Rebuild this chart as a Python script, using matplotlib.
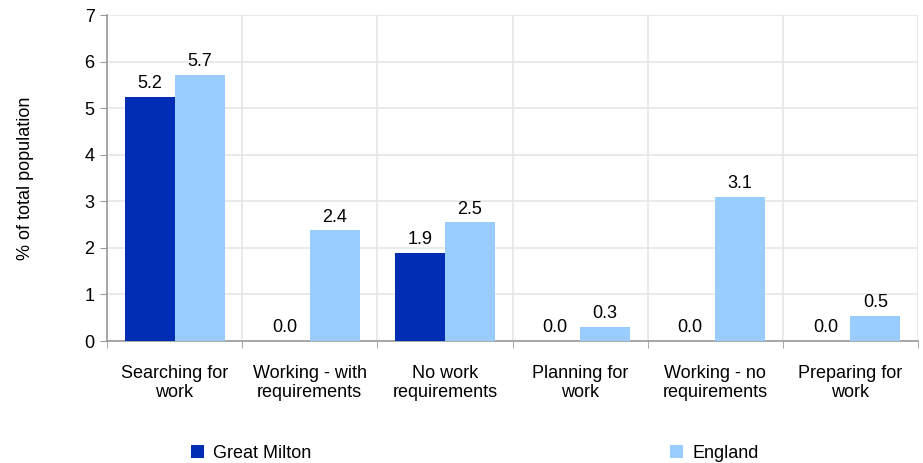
import numpy as np
import matplotlib.pyplot as plt

plt.rcParams['font.family'] = ['Liberation Sans', 'DejaVu Sans']

categories = ["Searching for\nwork", "Working - with\nrequirements", "No work\nrequirements",
              "Planning for\nwork", "Working - no\nrequirements", "Preparing for\nwork"]
great_milton = [5.24, 0.0, 1.89, 0.0, 0.0, 0.0]
england = [5.71, 2.38, 2.55, 0.30, 3.09, 0.54]

x = np.arange(len(categories))
w = 0.37
fs = 13

fig = plt.figure(figsize=(9.23, 4.63), dpi=100)
ax = fig.add_axes([107 / 923, 1 - 341 / 463, 811 / 923, 326 / 463])

b1 = ax.bar(x - w / 2, great_milton, w, color='#002db3', label='Great Milton', zorder=3)
b2 = ax.bar(x + w / 2, england, w, color='#99ccff', label='England', zorder=3)

for bars, vals in ((b1, great_milton), (b2, england)):
    for b, v in zip(bars, vals):
        ax.text(b.get_x() + b.get_width() / 2, v + 0.1, f"{v:.1f}",
                ha='center', va='bottom', fontsize=fs)

ax.set_xlim(-0.5, len(categories) - 0.5)
ax.set_ylim(0, 7)
ax.set_yticks(range(0, 8))
ax.set_xticks(x)
ax.set_xticklabels(categories, fontsize=fs, linespacing=1.15)
ax.set_xticks(np.arange(-0.5, len(categories)), minor=True)
ax.tick_params(axis='x', which='major', length=0, pad=17)
ax.tick_params(axis='x', which='minor', length=5, color='#999999', direction='out')
ax.tick_params(axis='y', length=5, color='#999999', labelsize=fs, pad=4)

ax.grid(True, axis='y', color='#e6e6e6', lw=1.2, zorder=0)
ax.grid(True, axis='x', which='minor', color='#e6e6e6', lw=1.2, zorder=0)
for s in ('top', 'right'):
    ax.spines[s].set_visible(False)
for s in ('left', 'bottom'):
    ax.spines[s].set_color('#999999')
    ax.spines[s].set_linewidth(1.2)

ax.set_ylabel("% of total population", fontsize=fs, labelpad=36)

fig.legend(handles=[b1, b2], loc='center left', bbox_to_anchor=(175 / 923, 1 - 453 / 463), ncol=2,
           frameon=False, fontsize=fs, handlelength=0.7, handleheight=0.7,
           handletextpad=0.5, columnspacing=19.9)

fig.savefig("out.png", dpi=100)
